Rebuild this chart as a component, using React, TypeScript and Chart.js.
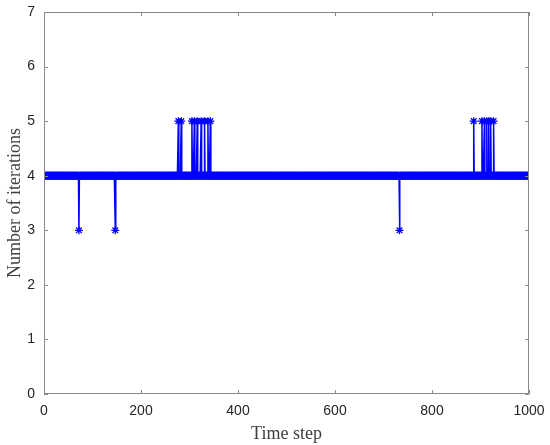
import React, { useEffect, useRef } from "react";
import { Chart, registerables } from "chart.js";

Chart.register(...registerables);

// Time steps 1..1000 (x categories)
const FIRST_STEP = 1;
const LAST_STEP = 1000;
const baselineIterations = 4;
const dipSteps = [72, 147, 733];
const dipIterations = 3;
const spikeSteps = [277, 283, 305, 310, 316, 324, 331, 338, 343, 886, 903, 908, 913, 917, 921, 927];
const spikeIterations = 5;

const xTicks = [0, 200, 400, 600, 800, 1000];
const yTicks = [0, 1, 2, 3, 4, 5, 6, 7];

const timeSteps: number[] = [];
for (let t = FIRST_STEP; t <= LAST_STEP; t++) timeSteps.push(t);
const iterations: number[] = timeSteps.map((t) =>
  dipSteps.includes(t) ? dipIterations : spikeSteps.includes(t) ? spikeIterations : baselineIterations
);

const AXIS_COLOR = "#8a8a8a";

const boxPlugin = {
  id: "matlabBox",
  afterDraw(chart: any) {
    const { ctx, chartArea } = chart;
    const { left, right, top, bottom } = chartArea;
    const xs = chart.scales.x;
    const ys = chart.scales.y;
    ctx.save();
    ctx.strokeStyle = AXIS_COLOR;
    ctx.lineWidth = 1;
    ctx.beginPath();
    ctx.rect(left + 0.5, top + 0.5, right - left - 1, bottom - top - 1);
    ctx.stroke();
    const len = 4;
    ctx.beginPath();
    xTicks.forEach((v) => {
      const px = Math.round(xs.getPixelForValue(v)) + 0.5;
      ctx.moveTo(px, bottom);
      ctx.lineTo(px, bottom - len);
      ctx.moveTo(px, top);
      ctx.lineTo(px, top + len);
    });
    yTicks.forEach((v) => {
      const py = Math.round(ys.getPixelForValue(v)) + 0.5;
      ctx.moveTo(left, py);
      ctx.lineTo(left + len, py);
      ctx.moveTo(right, py);
      ctx.lineTo(right - len, py);
    });
    ctx.stroke();
    ctx.restore();
  },
};

export default function App() {
  const canvasRef = useRef<HTMLCanvasElement | null>(null);

  useEffect(() => {
    document.body.style.margin = "0";
    const canvas = canvasRef.current;
    if (!canvas) return;
    const chart = new Chart(canvas, {
      type: "line",
      data: {
        datasets: [
          {
            data: timeSteps.map((t, i) => ({ x: t, y: iterations[i] })),
            borderColor: "#0000ff",
            backgroundColor: "#0000ff",
            borderWidth: 1.5,
            pointStyle: "star",
            pointRadius: 4,
            pointBorderWidth: 1.3,
            pointBorderColor: "#0000ff",
            pointHoverRadius: 4,
            tension: 0,
            fill: false,
          },
        ],
      },
      options: {
        animation: false,
        responsive: false,
        maintainAspectRatio: false,
        devicePixelRatio: 1,
        layout: { padding: { left: 0, top: 12, right: 21, bottom: 0 } },
        plugins: { legend: { display: false }, tooltip: { enabled: false } },
        scales: {
          x: {
            type: "linear",
            min: 0,
            max: 1000,
            afterBuildTicks: (scale: any) => {
              scale.ticks = xTicks.map((v) => ({ value: v }));
            },
            afterFit: (scale: any) => {
              scale.height = 51;
              scale.paddingLeft = 0;
              scale.paddingRight = 0;
            },
            grid: { display: false, drawTicks: false },
            border: { display: false },
            ticks: {
              padding: 9,
              color: "#262626",
              font: { family: "'Liberation Sans', Arial, sans-serif", size: 14 },
              maxRotation: 0,
              callback: (v: any) => String(v),
            },
            title: {
              display: true,
              text: "Time step",
              color: "#404040",
              font: { family: "'Liberation Serif', 'Times New Roman', serif", size: 18 },
              padding: { top: 0, bottom: 0 },
            },
          },
          y: {
            type: "linear",
            min: 0,
            max: 7,
            afterBuildTicks: (scale: any) => {
              scale.ticks = yTicks.map((v) => ({ value: v }));
            },
            afterFit: (scale: any) => {
              scale.width = 44;
              scale.paddingTop = 0;
              scale.paddingBottom = 0;
            },
            grid: { display: false, drawTicks: false },
            border: { display: false },
            ticks: {
              padding: 9,
              color: "#262626",
              font: { family: "'Liberation Sans', Arial, sans-serif", size: 14 },
              callback: (v: any) => String(v),
            },
            title: {
              display: true,
              text: "Number of iterations",
              color: "#404040",
              font: { family: "'Liberation Serif', 'Times New Roman', serif", size: 18 },
              padding: { top: 4, bottom: 0 },
            },
          },
        },
      },
      plugins: [boxPlugin],
    });
    return () => chart.destroy();
  }, []);

  return (
    <div style={{ width: 550, height: 445, background: "#fff" }}>
      <canvas ref={canvasRef} width={550} height={445} style={{ display: "block" }} />
    </div>
  );
}
